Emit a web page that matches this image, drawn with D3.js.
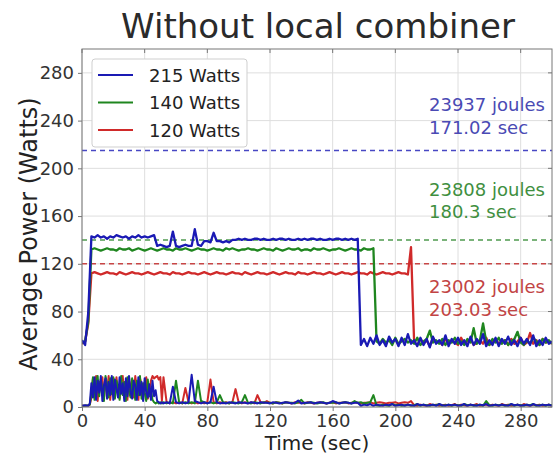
<!DOCTYPE html>
<html><head><meta charset="utf-8">
<script src="https://cdn.jsdelivr.net/npm/d3@7"></script>
<style>body{margin:0;background:#fff}svg text{font-family:"DejaVu Sans",sans-serif}</style>
</head><body><svg id="c" width="556" height="456"></svg>
<script>
// ---- data ----
const title = "Without local combiner";
const xLabel = "Time (sec)";
const yLabel = "Average Power (Watts)";
const xTicks = [0, 40, 80, 120, 160, 200, 240, 280];
const yTicks = [0, 40, 80, 120, 160, 200, 240, 280];
const seriesNames = ["215 Watts", "140 Watts", "120 Watts"];
const capLevels = [215, 140, 120];
const energyLabels = ["23937 joules", "23808 joules", "23002 joules"];
const timeLabels = ["171.02 sec", "180.3 sec", "203.03 sec"];
const sampleStep = 2;   // seconds between samples of the main arrays
const burstStart = 5;   // burst arrays: 1-second samples from t = 5 s
const burstEnd = 51;

const blueMain = [56,52,79,
 143,142,144,142,143,141,143,142,144,143,142,143,141,143,142,144,142,143,142,143,144,
 135,136,135,134,135,147,135,134,135,136,135,135,149,136,135,
 139,139,138,146,139,139,138,139,138,140,
 140,141,140,141,140,140,141,141,140,141,140,140,141,140,141,141,140,141,140,140,141,140,141,140,141,141,140,141,140,140,141,140,141,141,140,141,140,141,140,
 141,
 52,57,51,58,53,60,52,56,51,59,54,57,51,58,52,61,53,56,51,58,52,57,50,59,53,56,52,60,51,57,53,58,52,56,51,59,52,57,53,61,51,56,52,58,51,57,53,59,52,56,51,58,53,57,52,60,51,56,52,58,53,55];
const greenMain = [54,55,72,
 132,133,132,131,132,133,132,132,131,133,
 132,132,133,131,132,133,132,131,132,133,
 132,131,132,133,132,132,131,133,132,132,
 133,132,131,132,133,132,132,131,132,133,
 132,132,131,133,132,133,132,131,132,132,
 133,132,132,131,132,133,132,132,131,133,
 132,131,132,133,132,132,133,131,132,132,
 131,133,132,132,133,132,131,132,132,133,
 132,131,132,133,132,132,131,133,132,132,
 133,
 55,53,57,54,56,52,58,53,55,57,54,56,53,58,52,55,57,64,54,56,
 53,57,52,56,54,58,53,55,52,57,54,66,53,56,70,55,52,57,54,58,
 53,56,52,55,57,63,54,52,56,53,58,55,52,57,54,56,53];
const redMain = [53,55,70,
 112,113,112,111,112,113,112,112,111,113,
 112,111,112,113,112,112,111,112,113,112,
 111,112,113,112,112,111,113,112,112,111,
 112,113,112,112,111,112,113,112,111,112,
 113,112,112,111,112,113,112,112,111,113,
 112,111,112,113,112,112,111,112,113,112,
 111,112,113,112,112,111,113,112,112,111,
 112,113,112,112,111,112,113,112,111,112,
 113,112,112,111,112,113,112,112,111,113,
 112,111,112,113,112,112,111,112,113,112,
 112,111,
 134,
 54,52,57,53,56,51,58,54,55,52,57,53,56,54,52,58,53,55,57,52,54,56,53,58,52,55,57,53,54,56,52,57,53,55,58,52,54,62,53,56,52,57,54,55,53];

const blueLow = [1,1.5,1,
 24,8,22,6,26,10,20,7,25,12,18,6,24,9,21,5,23,11,19,6,14,
 4,3,3,4,3,17,4,3,4,3,4,27,5,4,3,4,3,4,17,4,3,
 3.5,3,4,3.5,3,4,3.5,3.5,3,4, 3.5,3,4,3.5,3.5,3,4,3.5,3,3.5, 4,3.5,3,3.5,5.5,3,3.5,3.5,4,3, 3.5,4,3.5,3,3.5,5,4,3,3.5,4, 3.5,3,3.5,3.5,
 1,2,1.5,2.5,1,2,1.5,1,2,1.5, 2.5,1,1.5,2,1,2,1.5,1,2.5,1.5, 2,1,1.5,2,1,2.5,1.5,1,2,1.5, 2,1,1.5,2.5,1,2,1.5,1,2,1.5, 2.5,1,1.5,2,1,2,1.5,1,2.5,1.5, 2,1,1.5,2,1,2.5,1.5,1,2,1.5, 2,1];
const greenLow = [1,1,1.5,
 10,20,25,7,22,12,26,5,24,15,9,26,18,6,23,10,25,8,21,14,5,
 4,3,4,3,4,3,22,4,3,4,3,4,3,22,5,4,3,4,3,4,
 10,
 4,3.5,3,4,3.5,3,4,
 10,
 3.5,3,4,3.5,3,4,3.5,3.5,3,4, 3.5,3,4,3.5,3.5,3,4,6,3,3.5, 4,3.5,3,3.5,4,3,3.5,3.5,4,3, 3.5,4,3.5,3,5,3.5,4,3,3.5,4,
 10,
 1.5,1,2,1.5,1,2.5,1.5,2,1,1.5, 2,1,1.5,2.5,1,2,1.5,1,2,1.5, 2.5,1,1.5,2,1,2,1.5,1,2.5,1.5, 2,1,1.5,2,1,5,1.5,1,2,1.5, 2,1,1.5,2.5,1,2,1.5,1,2,1.5, 2.5,1,1.5,2,1,2,1.5];
const redLow = [1,1,1,
 8,22,12,26,6,24,10,20,25,7,23,14,26,8,22,11,25,20,9,24,25,26,24,25,
 4,3,4,3,4,3,
 16,
 4,3,4,3,4,3,4,
 23,
 4,3,4,3,4,3,4,
 15,
 4,3,4,3,4,3,
 10,
 4,3.5,5,3.5,3,4,3.5,3,4,3.5, 3,4,3.5,3.5,3,4,3.5,3,3.5,4, 3.5,3,3.5,4,3,3.5,3.5,4,3,3.5, 4,3.5,3,3.5,3.5,4,3,3.5,4,3.5, 3,3.5,3.5,4,3,3.5,4,3.5,
 5,
 1.5,1,2,1.5,1,2.5,1.5,2,1,1.5, 2,1,1.5,2.5,1,2,1.5,1,2,1.5, 2.5,1,1.5,2,1,2,1.5,1,2.5,1.5, 2,1,1.5,2,1,2.5,1.5,1,2,1.5, 2,1,1.5,2,1];

// denser 1-second samples of the early burst (t = 5..51 s)
const blueBurst = [3,20,8,25,6,22,12,26,5,18, 24,7,21,10,26,6,23,15,8,25, 11,20,5,24,9,26,13,7,22,18, 6,25,10,21,5,24,12,8,19,6, 22,9,14,5,4,3,4];
const greenBurst = [2,12,25,6,20,26,9,23,14,5, 26,19,8,24,11,25,7,22,16,6, 26,10,21,5,25,13,8,24,17,6, 22,10,26,7,20,12,5,23,9,15, 6,4,3,4,3,4,3];
const redBurst = [2,8,24,10,26,5,21,14,25,7, 23,12,26,6,20,24,9,25,13,7, 22,26,10,18,6,25,11,23,8,26, 15,6,24,19,9,20,25,7,12,22, 26,24,25,26,23,25,5];

// ---- drawing ----
const colors = ["#1a1ab4", "#1f861f", "#d02a2a"];
const textColors = ["#4a4ab4", "#3f8f3f", "#c24444"];
const dashColors = ["#4848c4", "#4f9a4f", "#c84646"];

const svg = d3.select("#c");
const L = 82, R = 552, T = 49, B = 407;
const x = d3.scaleLinear().domain([0, 300]).range([L, R]);
const y = d3.scaleLinear().domain([0, 300]).range([B, T]);

svg.append("rect").attr("width", 556).attr("height", 456).attr("fill", "#fff");

const defs = svg.append("defs");
defs.append("clipPath").attr("id", "clip").append("rect")
  .attr("x", L).attr("y", T).attr("width", R - L).attr("height", B - T);

// grid
const grid = svg.append("g").attr("stroke", "#dedede").attr("stroke-width", 1);
xTicks.forEach(v => grid.append("line").attr("x1", x(v)).attr("x2", x(v)).attr("y1", T).attr("y2", B));
yTicks.forEach(v => grid.append("line").attr("y1", y(v)).attr("y2", y(v)).attr("x1", L).attr("x2", R));

const plot = svg.append("g").attr("clip-path", "url(#clip)");

// cap lines (dashed)
capLevels.forEach((c, i) => {
  plot.append("line").attr("x1", L).attr("x2", R).attr("y1", y(c)).attr("y2", y(c))
    .attr("stroke", dashColors[i]).attr("stroke-width", 1.5).attr("stroke-dasharray", "5,4");
});

const toPts = arr => arr.map((v, i) => [i * sampleStep, v]);
const withBurst = (arr, burst) => {
  const pts = toPts(arr).filter(p => p[0] < burstStart || p[0] > burstEnd);
  burst.forEach((v, i) => pts.push([burstStart + i, v]));
  return pts.sort((a, b) => a[0] - b[0]);
};
const line = d3.line().x(d => x(d[0])).y(d => y(d[1]));
const mains = [blueMain, greenMain, redMain].map(toPts);
const lows = [withBurst(blueLow, blueBurst), withBurst(greenLow, greenBurst), withBurst(redLow, redBurst)];
[2, 1, 0].forEach(i => {
  plot.append("path").datum(lows[i]).attr("d", line).attr("fill", "none")
    .attr("stroke", colors[i]).attr("stroke-width", 2).attr("stroke-linejoin", "round");
});
[2, 1, 0].forEach(i => {
  plot.append("path").datum(mains[i]).attr("d", line).attr("fill", "none")
    .attr("stroke", colors[i]).attr("stroke-width", 2.3).attr("stroke-linejoin", "round");
});

// frame
svg.append("rect").attr("x", L).attr("y", T).attr("width", R - L).attr("height", B - T)
  .attr("fill", "none").attr("stroke", "#777").attr("stroke-width", 1);

// axes
const ax = svg.append("g").attr("transform", `translate(0,${B})`)
  .call(d3.axisBottom(x).tickValues(xTicks).tickSize(4).tickPadding(3));
const ay = svg.append("g").attr("transform", `translate(${L},0)`)
  .call(d3.axisLeft(y).tickValues(yTicks).tickSize(4).tickPadding(4));
[ax, ay].forEach(a => {
  a.select(".domain").remove();
  a.selectAll(".tick line").attr("stroke", "#777");
  a.selectAll(".tick text").attr("fill", "#333").style("font-size", "18px")
    .style("font-family", '"DejaVu Sans", sans-serif');
});
// inward ticks on top and right
const tk = svg.append("g").attr("stroke", "#777");
xTicks.forEach(v => tk.append("line").attr("x1", x(v)).attr("x2", x(v)).attr("y1", T).attr("y2", T + 4));
yTicks.forEach(v => tk.append("line").attr("y1", y(v)).attr("y2", y(v)).attr("x1", R).attr("x2", R - 4));

// annotations
const annY = [[111, 134], [196, 218], [293, 316]];
energyLabels.forEach((e, i) => {
  svg.append("text").attr("x", 429).attr("y", annY[i][0]).attr("fill", textColors[i])
    .style("font-size", "18px").text(e);
  svg.append("text").attr("x", 429).attr("y", annY[i][1]).attr("fill", textColors[i])
    .style("font-size", "18px").text(timeLabels[i]);
});

// legend
const lg = svg.append("g");
lg.append("rect").attr("x", 92).attr("y", 59).attr("width", 155).attr("height", 88).attr("rx", 3)
  .attr("fill", "#fff").attr("stroke", "#cfcfcf");
seriesNames.forEach((s, i) => {
  const cy = 75 + i * 27.5;
  lg.append("line").attr("x1", 98).attr("x2", 133).attr("y1", cy).attr("y2", cy)
    .attr("stroke", colors[i]).attr("stroke-width", 2.2);
  lg.append("text").attr("x", 149).attr("y", cy + 6.5).attr("fill", "#222")
    .style("font-size", "18px").text(s);
});

// titles
svg.append("text").attr("x", 318).attr("y", 38).attr("text-anchor", "middle")
  .attr("fill", "#2a2a2a").style("font-size", "34px").text(title);
svg.append("text").attr("x", 317).attr("y", 450).attr("text-anchor", "middle")
  .attr("fill", "#222").style("font-size", "20px").text(xLabel);
svg.append("text").attr("transform", "translate(37,234) rotate(-90)").attr("text-anchor", "middle")
  .attr("fill", "#222").style("font-size", "24px").text(yLabel);
</script></body></html>
